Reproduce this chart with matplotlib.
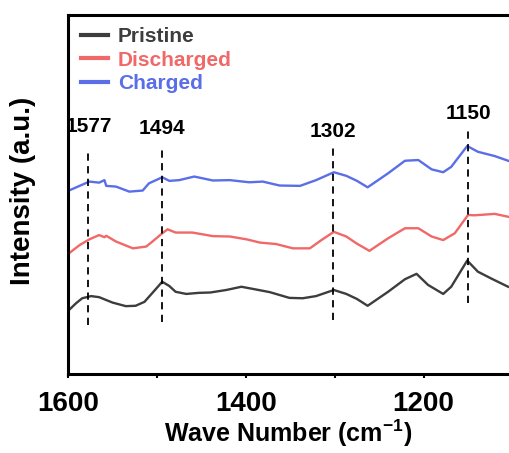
import matplotlib
matplotlib.use('Agg')
import matplotlib.pyplot as plt
from matplotlib.ticker import MultipleLocator

plt.rcParams['font.family'] = ['Liberation Sans', 'DejaVu Sans']
plt.rcParams['font.weight'] = 'bold'
plt.rcParams['mathtext.fontset'] = 'custom'
plt.rcParams['mathtext.rm'] = 'Liberation Sans'
plt.rcParams['mathtext.bf'] = 'Liberation Sans:bold'

# spectra (wave number, intensity a.u.)
wn_pristine = [1599, 1591, 1584, 1574, 1565, 1550, 1535, 1524, 1514, 1505, 1494, 1486,
               1479, 1467, 1453, 1440, 1422, 1405, 1392, 1373, 1351, 1336, 1321, 1301,
               1287, 1275, 1263, 1240, 1221, 1208, 1195, 1178, 1169, 1151, 1139, 1124, 1105]
int_pristine = [17.8, 19.7, 21.1, 21.7, 21.4, 19.9, 18.9, 19.0, 20.1, 22.6, 25.7, 24.5,
                22.9, 22.3, 22.6, 22.7, 23.4, 24.3, 23.7, 22.8, 21.2, 21.1, 21.7, 23.4,
                22.3, 20.9, 19.0, 22.9, 26.4, 27.9, 24.8, 22.3, 24.3, 31.6, 28.5, 26.6, 24.3]

wn_discharged = [1599, 1587, 1576, 1565, 1559, 1557, 1546, 1527, 1512, 1505, 1494, 1488,
                 1479, 1460, 1437, 1418, 1399, 1384, 1366, 1347, 1328, 1315, 1301, 1287,
                 1275, 1261, 1240, 1221, 1206, 1191, 1178, 1165, 1150, 1143, 1120, 1105]
int_discharged = [33.6, 35.9, 37.5, 38.7, 38.1, 38.5, 36.9, 35.0, 35.5, 36.9, 39.2, 40.3,
                  39.4, 39.4, 38.4, 38.3, 37.5, 36.6, 36.2, 35.0, 35.0, 37.3, 39.6, 38.3,
                  36.3, 34.3, 37.8, 40.6, 40.6, 38.3, 37.3, 39.2, 44.3, 44.2, 44.6, 43.8]

wn_charged = [1599, 1587, 1576, 1565, 1559, 1557, 1546, 1531, 1516, 1509, 1494, 1486,
              1475, 1458, 1437, 1418, 1396, 1381, 1362, 1339, 1321, 1301, 1287, 1275,
              1263, 1240, 1221, 1206, 1191, 1178, 1169, 1151, 1139, 1120, 1105]
int_charged = [51.1, 52.4, 53.6, 53.3, 54.0, 52.4, 52.2, 50.8, 51.1, 53.1, 54.8, 53.8,
               54.0, 55.0, 53.9, 54.0, 53.4, 53.6, 52.5, 52.4, 54.0, 56.2, 55.2, 53.8,
               52.0, 55.9, 59.4, 59.6, 57.0, 56.2, 57.7, 63.5, 61.9, 60.7, 59.4]

labels = ['Pristine', 'Discharged', 'Charged']
colors = ['#3d3d3d', '#f06868', '#5a6ee8']

# marked peaks: position, dashed line from/to, label height
peaks = [1577, 1494, 1302, 1150]
peak_top = [62.5, 63.0, 63.5, 68.3]
peak_bottom = [13.6, 14.5, 15.0, 19.8]
peak_label_y = [69.0, 68.5, 67.5, 72.5]

fig = plt.figure(figsize=(5.09, 4.53), dpi=100)
ax = fig.add_axes([0.1336, 0.1744, 0.8664, 0.7925])

series = [(wn_pristine, int_pristine), (wn_discharged, int_discharged), (wn_charged, int_charged)]
for (x, y), c, lab in zip(series, colors, labels):
    ax.plot(x, y, color=c, lw=1.7, label=lab, solid_joinstyle='round')

for p, top, bot, ly in zip(peaks, peak_top, peak_bottom, peak_label_y):
    ax.plot([p, p], [bot, top], color='black', lw=1.3, ls=(0, (4, 3)))
    ax.text(p, ly, str(p), ha='center', va='center', fontsize=15, fontweight='bold')

ax.set_xlim(1600, 1104)
ax.set_ylim(0, 100)
ax.xaxis.set_major_locator(MultipleLocator(200))
ax.xaxis.set_minor_locator(MultipleLocator(100))
ax.set_yticks([])
ax.tick_params(axis='x', which='both', direction='out', length=3, width=1.5,
               labelsize=20, pad=9)
for lab in ax.get_xticklabels():
    lab.set_fontweight('bold')

for side in ['left', 'bottom', 'top']:
    ax.spines[side].set_linewidth(2.2)
ax.spines['right'].set_visible(False)

ax.set_xlabel(r'Wave Number (cm$^{\mathbf{-1}}$)', fontsize=18, fontweight='bold', labelpad=1)
ax.set_ylabel('Intensity (a.u.)', fontsize=20, fontweight='bold')
ax.yaxis.set_label_coords(-0.072, 0.51)

leg = ax.legend(loc='upper left', frameon=False, handlelength=1.3,
                handletextpad=0.5, labelspacing=0.2, borderaxespad=0.2,
                labelcolor='linecolor', prop={'weight': 'bold', 'size': 15})
for line in leg.get_lines():
    line.set_linewidth(3)

fig.savefig('out.png', dpi=100)
